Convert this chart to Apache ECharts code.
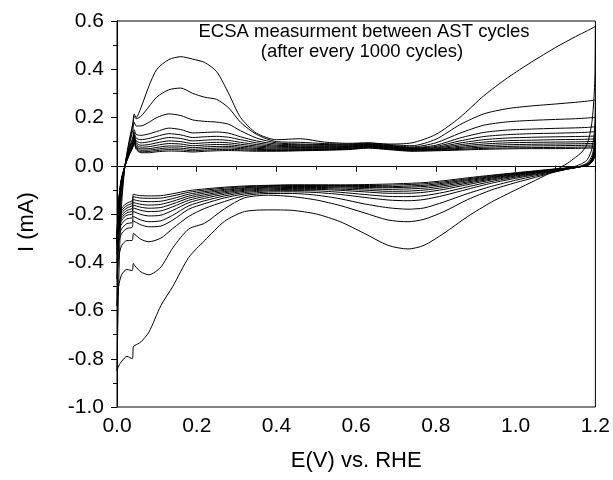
<!DOCTYPE html>
<html>
<head>
<meta charset="utf-8">
<script src="https://cdn.jsdelivr.net/npm/echarts@6/dist/echarts.min.js"></script>
<style>html,body{margin:0;padding:0;background:#fff;}#chart{width:613px;height:480px;}</style>
</head>
<body>
<div id="chart"></div>
<script>
// Potential grids (V vs RHE)
const E_ANODIC = [0, 0.004, 0.01, 0.02, 0.03, 0.04, 0.043, 0.048, 0.06, 0.08, 0.1, 0.13, 0.16, 0.19, 0.22, 0.25, 0.28, 0.31, 0.35, 0.4, 0.46, 0.52, 0.58, 0.63, 0.68, 0.74, 0.8, 0.86, 0.92, 0.98, 1.04, 1.1, 1.15, 1.18, 1.195, 1.2];
const E_CATHODIC = [1.2, 1.199, 1.196, 1.192, 1.186, 1.178, 1.165, 1.15, 1.13, 1.1, 1.05, 1.0, 0.94, 0.88, 0.82, 0.77, 0.73, 0.68, 0.62, 0.56, 0.5, 0.44, 0.38, 0.32, 0.27, 0.22, 0.18, 0.14, 0.11, 0.08, 0.06, 0.045, 0.041, 0.038, 0.025, 0.012, 0.004, 0];

// Currents (mA) per CV cycle
const c1Anodic = [-0.85, -0.5, -0.2, 0, 0.1, 0.18, 0.215, 0.2, 0.24, 0.33, 0.4, 0.44, 0.452, 0.442, 0.428, 0.39, 0.3, 0.2, 0.135, 0.108, 0.112, 0.098, 0.093, 0.095, 0.09, 0.095, 0.13, 0.2, 0.29, 0.365, 0.43, 0.49, 0.535, 0.56, 0.573, 0.578];
const c1Cathodic = [0.578, 0.38, 0.27, 0.19, 0.13, 0.085, 0.055, 0.035, 0.01, -0.018, -0.06, -0.1, -0.15, -0.21, -0.28, -0.33, -0.345, -0.33, -0.28, -0.232, -0.2, -0.185, -0.183, -0.19, -0.23, -0.31, -0.38, -0.5, -0.58, -0.69, -0.73, -0.745, -0.75, -0.8, -0.79, -0.81, -0.83, -0.85];
const c2Anodic = [-0.58, -0.33, -0.15, 0, 0.09, 0.17, 0.205, 0.195, 0.205, 0.245, 0.285, 0.315, 0.322, 0.3, 0.284, 0.275, 0.24, 0.18, 0.13, 0.1, 0.097, 0.092, 0.09, 0.094, 0.088, 0.083, 0.11, 0.17, 0.215, 0.237, 0.248, 0.256, 0.263, 0.268, 0.271, 0.273];
const c2Cathodic = [0.273, 0.18, 0.12, 0.075, 0.045, 0.022, 0.008, -0.002, -0.012, -0.025, -0.048, -0.07, -0.1, -0.14, -0.19, -0.222, -0.232, -0.225, -0.195, -0.165, -0.142, -0.128, -0.122, -0.133, -0.178, -0.238, -0.262, -0.34, -0.42, -0.452, -0.44, -0.415, -0.405, -0.435, -0.43, -0.45, -0.5, -0.58];
const c3Anodic = [-0.47, -0.26, -0.12, 0, 0.08, 0.15, 0.18, 0.165, 0.165, 0.18, 0.2, 0.215, 0.208, 0.19, 0.184, 0.181, 0.172, 0.145, 0.115, 0.095, 0.09, 0.088, 0.087, 0.091, 0.085, 0.078, 0.095, 0.135, 0.168, 0.182, 0.188, 0.192, 0.195, 0.198, 0.2, 0.202];
const c3Cathodic = [0.202, 0.12, 0.075, 0.045, 0.025, 0.01, 0, -0.007, -0.014, -0.025, -0.042, -0.06, -0.085, -0.115, -0.15, -0.175, -0.18, -0.174, -0.158, -0.137, -0.122, -0.115, -0.115, -0.124, -0.148, -0.177, -0.21, -0.26, -0.3, -0.315, -0.305, -0.285, -0.28, -0.31, -0.31, -0.33, -0.38, -0.47];
const c4Anodic = [-0.4, -0.22, -0.1, 0, 0.07, 0.12, 0.15, 0.13, 0.126, 0.132, 0.142, 0.156, 0.15, 0.136, 0.138, 0.14, 0.135, 0.12, 0.103, 0.09, 0.087, 0.085, 0.085, 0.089, 0.083, 0.075, 0.085, 0.115, 0.138, 0.148, 0.152, 0.155, 0.157, 0.159, 0.161, 0.163];
const c4Cathodic = [0.163, 0.095, 0.06, 0.035, 0.018, 0.006, -0.002, -0.008, -0.014, -0.023, -0.037, -0.052, -0.072, -0.097, -0.123, -0.14, -0.145, -0.142, -0.131, -0.119, -0.111, -0.108, -0.109, -0.117, -0.133, -0.157, -0.18, -0.225, -0.25, -0.253, -0.245, -0.232, -0.228, -0.255, -0.26, -0.28, -0.32, -0.4];
const c5Anodic = [-0.37, -0.2, -0.09, 0, 0.065, 0.11, 0.14, 0.115, 0.108, 0.113, 0.122, 0.133, 0.128, 0.117, 0.12, 0.122, 0.118, 0.108, 0.095, 0.085, 0.083, 0.082, 0.082, 0.087, 0.081, 0.073, 0.08, 0.103, 0.121, 0.129, 0.133, 0.135, 0.137, 0.139, 0.141, 0.143];
const c5Cathodic = [0.143, 0.085, 0.052, 0.03, 0.014, 0.004, -0.003, -0.008, -0.013, -0.021, -0.034, -0.047, -0.065, -0.087, -0.11, -0.124, -0.128, -0.127, -0.119, -0.11, -0.104, -0.103, -0.104, -0.111, -0.125, -0.145, -0.166, -0.205, -0.228, -0.232, -0.225, -0.213, -0.21, -0.235, -0.24, -0.26, -0.3, -0.37];
const c6Anodic = [-0.35, -0.19, -0.085, 0, 0.06, 0.1, 0.13, 0.103, 0.095, 0.099, 0.107, 0.117, 0.113, 0.103, 0.106, 0.108, 0.105, 0.097, 0.088, 0.081, 0.079, 0.079, 0.08, 0.085, 0.079, 0.071, 0.076, 0.094, 0.108, 0.115, 0.118, 0.12, 0.121, 0.122, 0.123, 0.125];
const c6Cathodic = [0.125, 0.075, 0.046, 0.026, 0.012, 0.003, -0.003, -0.008, -0.012, -0.019, -0.031, -0.043, -0.059, -0.078, -0.098, -0.11, -0.114, -0.114, -0.108, -0.102, -0.098, -0.098, -0.1, -0.106, -0.118, -0.135, -0.153, -0.185, -0.205, -0.208, -0.202, -0.192, -0.19, -0.215, -0.22, -0.24, -0.28, -0.35];
const c7Anodic = [-0.33, -0.18, -0.08, 0, 0.055, 0.095, 0.125, 0.095, 0.085, 0.088, 0.095, 0.103, 0.1, 0.092, 0.095, 0.097, 0.095, 0.089, 0.082, 0.077, 0.076, 0.076, 0.078, 0.083, 0.077, 0.069, 0.073, 0.087, 0.098, 0.104, 0.106, 0.108, 0.109, 0.11, 0.111, 0.113];
const c7Cathodic = [0.113, 0.068, 0.042, 0.024, 0.011, 0.002, -0.003, -0.007, -0.011, -0.018, -0.029, -0.04, -0.055, -0.072, -0.09, -0.101, -0.105, -0.106, -0.101, -0.097, -0.094, -0.094, -0.096, -0.102, -0.112, -0.127, -0.143, -0.17, -0.187, -0.19, -0.185, -0.177, -0.175, -0.2, -0.205, -0.225, -0.265, -0.33];
const c8Anodic = [-0.32, -0.17, -0.075, 0, 0.05, 0.09, 0.12, 0.088, 0.077, 0.079, 0.085, 0.092, 0.09, 0.083, 0.086, 0.088, 0.087, 0.082, 0.077, 0.073, 0.073, 0.073, 0.076, 0.081, 0.075, 0.067, 0.07, 0.081, 0.09, 0.095, 0.097, 0.098, 0.099, 0.1, 0.101, 0.103];
const c8Cathodic = [0.103, 0.062, 0.038, 0.022, 0.01, 0.002, -0.003, -0.007, -0.011, -0.017, -0.027, -0.037, -0.051, -0.067, -0.083, -0.093, -0.096, -0.098, -0.095, -0.092, -0.09, -0.09, -0.092, -0.098, -0.107, -0.12, -0.134, -0.158, -0.173, -0.176, -0.172, -0.165, -0.163, -0.188, -0.195, -0.215, -0.255, -0.32];
const c9Anodic = [-0.31, -0.165, -0.07, 0, 0.048, 0.085, 0.115, 0.082, 0.07, 0.071, 0.076, 0.082, 0.081, 0.075, 0.078, 0.08, 0.08, 0.076, 0.072, 0.069, 0.07, 0.07, 0.073, 0.079, 0.073, 0.066, 0.068, 0.076, 0.083, 0.087, 0.089, 0.09, 0.091, 0.092, 0.093, 0.095];
const c9Cathodic = [0.095, 0.057, 0.035, 0.02, 0.009, 0.001, -0.003, -0.007, -0.01, -0.016, -0.025, -0.035, -0.048, -0.062, -0.077, -0.086, -0.089, -0.091, -0.09, -0.088, -0.086, -0.086, -0.089, -0.094, -0.102, -0.113, -0.126, -0.147, -0.16, -0.163, -0.16, -0.154, -0.152, -0.177, -0.185, -0.205, -0.245, -0.31];
const c10Anodic = [-0.3, -0.16, -0.068, 0, 0.046, 0.082, 0.11, 0.077, 0.064, 0.065, 0.069, 0.074, 0.073, 0.068, 0.071, 0.073, 0.074, 0.071, 0.068, 0.066, 0.067, 0.068, 0.071, 0.077, 0.071, 0.064, 0.066, 0.072, 0.077, 0.08, 0.082, 0.083, 0.084, 0.085, 0.086, 0.088];
const c10Cathodic = [0.088, 0.053, 0.032, 0.018, 0.008, 0.001, -0.003, -0.006, -0.01, -0.015, -0.024, -0.033, -0.045, -0.058, -0.072, -0.081, -0.084, -0.087, -0.086, -0.085, -0.083, -0.083, -0.086, -0.091, -0.098, -0.107, -0.118, -0.136, -0.147, -0.149, -0.147, -0.142, -0.14, -0.165, -0.175, -0.195, -0.235, -0.3];
const c11Anodic = [-0.29, -0.155, -0.065, 0, 0.044, 0.08, 0.105, 0.072, 0.058, 0.059, 0.063, 0.067, 0.066, 0.062, 0.065, 0.067, 0.068, 0.066, 0.064, 0.063, 0.064, 0.066, 0.069, 0.075, 0.069, 0.062, 0.064, 0.068, 0.072, 0.074, 0.075, 0.076, 0.077, 0.078, 0.079, 0.081];
const c11Cathodic = [0.081, 0.049, 0.03, 0.017, 0.007, 0, -0.003, -0.006, -0.009, -0.014, -0.022, -0.031, -0.042, -0.054, -0.067, -0.075, -0.078, -0.081, -0.082, -0.082, -0.081, -0.081, -0.083, -0.087, -0.093, -0.101, -0.11, -0.125, -0.134, -0.135, -0.134, -0.13, -0.128, -0.155, -0.165, -0.185, -0.225, -0.29];
const c12Anodic = [-0.28, -0.15, -0.062, 0, 0.042, 0.078, 0.1, 0.068, 0.054, 0.054, 0.058, 0.061, 0.06, 0.057, 0.06, 0.062, 0.063, 0.062, 0.06, 0.06, 0.062, 0.064, 0.067, 0.073, 0.067, 0.06, 0.062, 0.065, 0.068, 0.07, 0.071, 0.071, 0.072, 0.073, 0.074, 0.076];
const c12Cathodic = [0.076, 0.046, 0.028, 0.016, 0.007, 0, -0.003, -0.006, -0.009, -0.013, -0.021, -0.029, -0.039, -0.05, -0.062, -0.07, -0.073, -0.076, -0.078, -0.079, -0.079, -0.079, -0.081, -0.084, -0.089, -0.096, -0.103, -0.116, -0.124, -0.125, -0.124, -0.12, -0.118, -0.145, -0.155, -0.175, -0.215, -0.28];

const X_TICKS = [0, 0.2, 0.4, 0.6, 0.8, 1.0, 1.2];
const Y_TICKS = [-1.0, -0.8, -0.6, -0.4, -0.2, 0.0, 0.2, 0.4, 0.6];
const TITLE_LINES = ['ECSA measurment between AST cycles', '(after every 1000 cycles)'];
const X_NAME = 'E(V) vs. RHE';
const Y_NAME = 'I (mA)';

const cycles = [
  [c1Anodic, c1Cathodic], [c2Anodic, c2Cathodic], [c3Anodic, c3Cathodic], [c4Anodic, c4Cathodic],
  [c5Anodic, c5Cathodic], [c6Anodic, c6Cathodic], [c7Anodic, c7Cathodic], [c8Anodic, c8Cathodic],
  [c9Anodic, c9Cathodic], [c10Anodic, c10Cathodic], [c11Anodic, c11Cathodic], [c12Anodic, c12Cathodic]
];

const FONT = '"Liberation Sans", Arial, sans-serif';
const fmt = v => (Math.abs(v) < 1e-9 ? 0 : v).toFixed(1);

const series = cycles.map((c, k) => ({
  type: 'line',
  data: E_ANODIC.map((e, i) => [e, c[0][i]]).concat(E_CATHODIC.map((e, i) => [e, c[1][i]])),
  showSymbol: false,
  symbol: 'none',
  smooth: 0.25,
  lineStyle: { color: '#000', width: 1 },
  silent: true,
  z: 3,
  markLine: k === 0 ? {
    silent: true, symbol: 'none', label: { show: false },
    lineStyle: { color: '#000', width: 1, type: 'solid' },
    data: [{ yAxis: 0 }]
  } : undefined
}));

const chart = echarts.init(document.getElementById('chart'));
chart.setOption({
  animation: false,
  backgroundColor: '#fff',
  grid: { left: 117, right: 16, top: 21, bottom: 73, show: true, borderColor: '#000', borderWidth: 1, backgroundColor: 'transparent' },
  xAxis: {
    type: 'value', min: X_TICKS[0], max: X_TICKS[X_TICKS.length - 1], interval: 0.2,
    name: X_NAME, nameLocation: 'middle', nameGap: 43,
    nameTextStyle: { fontFamily: FONT, fontSize: 22, color: '#000' },
    axisLine: { lineStyle: { color: '#000', width: 1 } },
    axisTick: { show: true, inside: false, length: 6, lineStyle: { color: '#000' } },
    minorTick: { show: true, splitNumber: 2, length: 4, lineStyle: { color: '#000' } },
    splitLine: { show: false },
    axisLabel: { fontFamily: FONT, fontSize: 21, color: '#000', margin: 9, formatter: fmt }
  },
  yAxis: {
    type: 'value', min: Y_TICKS[0], max: Y_TICKS[Y_TICKS.length - 1], interval: 0.2,
    axisLine: { show: true, lineStyle: { color: '#000', width: 1 } },
    axisTick: { show: true, inside: false, length: 6, lineStyle: { color: '#000' } },
    minorTick: { show: true, splitNumber: 2, length: 4, lineStyle: { color: '#000' } },
    splitLine: { show: false },
    axisLabel: { fontFamily: FONT, fontSize: 21, color: '#000', margin: 13, formatter: fmt }
  },
  graphic: [
    { type: 'text', x: 364, y: 32, silent: true, style: { text: TITLE_LINES[0], fill: '#000', font: '18.5px ' + FONT, textAlign: 'center', textVerticalAlign: 'middle' } },
    { type: 'text', x: 362, y: 52, silent: true, style: { text: TITLE_LINES[1], fill: '#000', font: '18.5px ' + FONT, textAlign: 'center', textVerticalAlign: 'middle' } },
    { type: 'text', x: 27, y: 222, rotation: Math.PI / 2, silent: true, style: { text: Y_NAME, fill: '#000', font: '22px ' + FONT, textAlign: 'center', textVerticalAlign: 'middle' } }
  ],
  series: series
});
</script>
</body>
</html>
